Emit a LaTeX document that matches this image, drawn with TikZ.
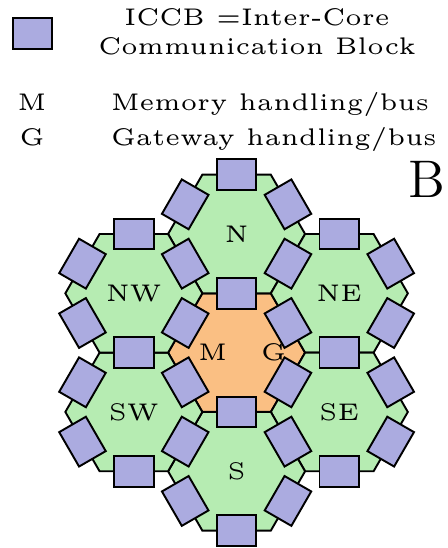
\documentclass[tikz,border=0pt]{standalone}
\usepackage{xcolor}
\usepackage{tikz}
\usetikzlibrary{shapes.geometric}

\definecolor{coregreen}{RGB}{182,236,178}
\definecolor{hubcore}{RGB}{250,191,131}
\definecolor{iccbblue}{RGB}{171,171,224}

\begin{document}
\begin{tikzpicture}[x=1mm, y=1mm,
    hexcore/.style={regular polygon, regular polygon sides=6, minimum size=10mm,
        inner sep=0pt, outer sep=0pt, draw, thin, fill=coregreen, font=\tiny},
    iccb/.style={rectangle, draw, thin, fill=iccbblue, inner sep=0pt,
        minimum width=2.9mm, minimum height=2.25mm}]
    \useasboundingbox (-17.27,-14.26) rectangle (15.43,25.74);
    % legend
    \node[iccb] (keyblock) at (-14.9,23.28) {};
    \node[font=\tiny, align=center] (keytext) at (1.49,23.4)
        {ICCB =Inter-Core\\Communication Block};
    \node[font=\tiny, anchor=base] (mkey) at (-14.93,17.71) {M};
    \node[font=\tiny, anchor=base] (gkey) at (-14.93,15.15) {G};
    \node[font=\tiny, anchor=base west, inner sep=0pt] (mtext) at (-9.23,17.71) {Memory handling/bus};
    \node[font=\tiny, anchor=base west, inner sep=0pt] (gtext) at (-9.23,15.15) {Gateway handling/bus};
    \node[font=\fontsize{11}{13}\selectfont, anchor=base] (panel) at (13.9,11.31) {B};
    % the seven cores
    \node[hexcore, fill=hubcore] (C) at (0,0) {};
    \foreach \d/\name in {90/N, 30/NE, -30/SE, -90/S, -150/SW, 150/NW}
        \node[hexcore] (\name) at (\d:8.66) {\name};
    % one ICCB on every edge
    \foreach \a in {30,90,...,330}
        \node[iccb, rotate=\a-90] (C-\a) at ([shift={(\a:4.33)}]C) {};
    \foreach \d/\name in {90/N, 30/NE, -30/SE, -90/S, -150/SW, 150/NW}
        \foreach \e in {-120,-60,0,60}
            \node[iccb, rotate=\d+\e-90] (\name-\e) at ([shift={(\d+\e:4.33)}]\name) {};
    % buses in the middle core
    \node[font=\tiny, inner sep=0pt] (mbus) at (-1.75,0) {M};
    \node[font=\tiny, inner sep=0pt] (gbus) at (2.7,0) {G};
\end{tikzpicture}
\end{document}
